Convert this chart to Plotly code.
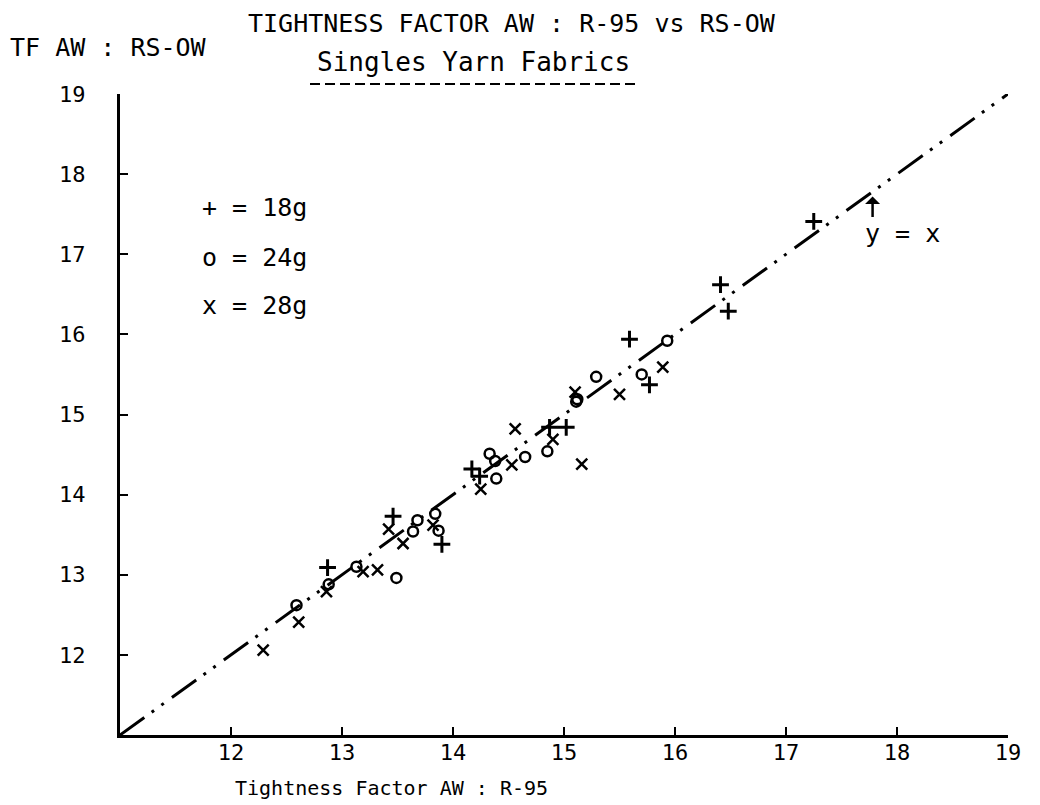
import plotly.graph_objects as go

# ---- data ----
plus_x = [12.87, 13.46, 13.90, 14.17, 14.24, 14.87, 15.02, 15.59, 15.77, 16.41, 16.48, 17.25]
plus_y = [13.09, 13.73, 13.38, 14.32, 14.23, 14.84, 14.84, 15.94, 15.37, 16.62, 16.29, 17.41]

o_x = [12.59, 12.88, 13.13, 13.49, 13.64, 13.68, 13.84, 13.87, 14.33, 14.38, 14.39, 14.65,
       14.85, 15.11, 15.12, 15.29, 15.70, 15.93]
o_y = [12.62, 12.88, 13.10, 12.96, 13.54, 13.68, 13.76, 13.55, 14.51, 14.42, 14.20, 14.47,
       14.54, 15.16, 15.19, 15.47, 15.50, 15.92]

x_x = [12.29, 12.61, 12.86, 13.19, 13.32, 13.42, 13.55, 13.82, 14.25, 14.53, 14.56, 14.90,
       15.10, 15.16, 15.50, 15.89]
x_y = [12.06, 12.41, 12.79, 13.04, 13.06, 13.57, 13.39, 13.62, 14.07, 14.37, 14.82, 14.69,
       15.28, 14.38, 15.25, 15.59]

diag = [11, 19]
tick_vals = [12, 13, 14, 15, 16, 17, 18, 19]
tick_text = ["12", "13", "14", "15", "16", "17", "18", "19"]

FONT = "DejaVu Sans Mono"
W, H = 1032, 797  # page has an 8px body margin

fig = go.Figure()
fig.add_trace(go.Scatter(x=diag, y=diag, mode="lines",
                         line=dict(color="black", width=3,
                                   dash="30px,9px,3px,9px,3px,10px"),
                         hoverinfo="skip", showlegend=False))
fig.add_trace(go.Scatter(x=plus_x, y=plus_y, mode="markers", name="18g",
                         marker=dict(symbol="cross-thin", size=12,
                                     line=dict(color="black", width=3))))
fig.add_trace(go.Scatter(x=o_x, y=o_y, mode="markers", name="24g",
                         marker=dict(symbol="circle-open", size=10, color="black",
                                     line=dict(color="black", width=2.5))))
fig.add_trace(go.Scatter(x=x_x, y=x_y, mode="markers", name="28g",
                         marker=dict(symbol="x-thin", size=11,
                                     line=dict(color="black", width=2.5))))

axis_common = dict(range=[11, 19], showgrid=False, zeroline=False,
                   showline=True, linecolor="black", linewidth=3,
                   ticks="inside", ticklen=8, tickwidth=2, tickcolor="black",
                   tickvals=tick_vals, ticktext=tick_text,
                   tickfont=dict(family=FONT, size=22, color="black"))

fig.update_layout(
    width=W, height=H,
    margin=dict(l=112, r=32, t=86, b=70),
    paper_bgcolor="white", plot_bgcolor="white",
    showlegend=False,
    xaxis=dict(**axis_common, ticklabelstandoff=-4),
    yaxis=dict(**axis_common, ticklabelstandoff=27),
)

def px(sx):
    return (sx - 120) / 888

def py(sy):
    return (735 - sy) / 641

def ann(text, x, y, xref="paper", yref="paper", xanchor="center", size=25,
        yanchor="middle"):
    fig.add_annotation(text=text, x=x, y=y, xref=xref, yref=yref,
                       xanchor=xanchor, yanchor=yanchor, showarrow=False,
                       font=dict(family=FONT, size=size, color="black"))

# main title, kept fully inside the page
fig.add_annotation(text="TIGHTNESS FACTOR AW : R-95 vs RS-OW",
                   xref="paper", yref="paper", x=px(512), y=py(8),
                   xanchor="center", yanchor="top", showarrow=False,
                   borderpad=0,
                   font=dict(family=FONT, size=25, color="black"))

ann("TF AW : RS-OW", px(8), py(47), xanchor="left")
ann("Tightness Factor AW : R-95", px(391), py(788), size=20)
ann("Singles Yarn Fabrics", px(473), py(62), size=26)

# underline for subtitle
fig.add_shape(type="line", xref="paper", yref="paper",
              x0=px(310), x1=px(636), y0=py(84), y1=py(84),
              line=dict(color="black", width=2, dash="10px,5px"))

# legend texts
ann("+ = 18g", 11.72, 17.58, xref="x", yref="y", xanchor="left")
ann("o = 24g", 11.72, 16.96, xref="x", yref="y", xanchor="left")
ann("x = 28g", 11.72, 16.36, xref="x", yref="y", xanchor="left")

# y = x label with arrow
ann("y = x", 18.05, 17.26, xref="x", yref="y")
fig.add_annotation(x=17.78, y=17.72, xref="x", yref="y", ax=0, ay=22,
                   showarrow=True, arrowhead=1, arrowsize=1, arrowwidth=2.5,
                   arrowcolor="black", text="")

fig.write_html("out.html")
